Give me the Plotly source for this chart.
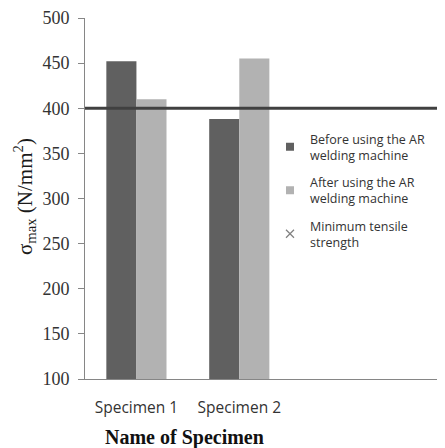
import plotly.graph_objects as go

specimens = ["Specimen 1", "Specimen 2"]
before_ar = [452, 388]
after_ar = [410, 455]
min_tensile = 400
y_ticks = [100, 150, 200, 250, 300, 350, 400, 450, 500]

dark = "#606060"
light = "#b2b2b2"

# page has an 8px body margin; figure sized so plot area lands where the reference has it
W, H = 437, 440
L, T, R, B = 77, 10, 0, 69
PW, PH = W - L - R, H - T - B

fig = go.Figure()
fig.add_trace(go.Bar(x=specimens, y=before_ar, marker=dict(color=dark, line=dict(width=0)),
                     name="Before using the AR<br>welding machine", showlegend=False))
fig.add_trace(go.Bar(x=specimens, y=after_ar, marker=dict(color=light, line=dict(width=0)),
                     name="After using the AR<br>welding machine", showlegend=False))

# legend entries
fig.add_trace(go.Scatter(x=[None], y=[None], mode="markers", name="Before using the AR<br>welding machine",
                         marker=dict(symbol="square", size=8, color=dark), legendgroup="a"))
fig.add_trace(go.Scatter(x=[None], y=[None], mode="markers", name="After using the AR<br>welding machine",
                         marker=dict(symbol="square", size=8, color=light), legendgroup="b"))
fig.add_trace(go.Scatter(x=[None], y=[None], mode="markers", name="Minimum tensile<br>strength",
                         marker=dict(symbol="x-thin-open", size=8, color="#7f7f7f",
                                     line=dict(width=1.2, color="#7f7f7f")),
                         legendgroup="c"))

fig.add_hline(y=min_tensile, line=dict(color="#404040", width=3), layer="above")

fig.update_layout(
    width=W, height=H,
    margin=dict(l=L, r=R, t=T, b=B, autoexpand=False),
    paper_bgcolor="white", plot_bgcolor="white",
    barmode="group", bargap=0.415, bargroupgap=0,
    font=dict(family="Open Sans", color="#333333"),
    legend=dict(x=(262 - L) / PW, y=1 - (116 - T) / PH, xanchor="left", yanchor="top",
                font=dict(family="Open Sans", size=12.5, color="#333333"),
                itemwidth=30, tracegroupgap=8, bgcolor="rgba(0,0,0,0)"),
    xaxis=dict(type="category", range=[-0.5, 3.0], showline=True, linecolor="#868686", linewidth=1,
               ticks="", showgrid=False, tickfont=dict(family="Open Sans", size=15.5, color="#333333"),
               ticklabelstandoff=14, fixedrange=True),
    yaxis=dict(range=[100, 500], tickvals=y_ticks, showline=True, linecolor="#868686", linewidth=1,
               ticks="outside", ticklen=6, tickcolor="#868686", showgrid=False, zeroline=False,
               tickfont=dict(family="Liberation Serif", size=18, color="#333333"),
               ticklabelstandoff=5),
)
fig.add_annotation(text="σ<sub>max</sub> (N/mm<sup>2</sup>)", textangle=-90,
                   xref="paper", yref="paper", x=(17 - L) / PW, y=1 - (189 - T) / PH,
                   xanchor="center", yanchor="middle", showarrow=False,
                   font=dict(family="Liberation Serif", size=21, color="#1a1a1a"))
fig.add_annotation(text="<b>Name of Specimen</b>", xref="paper", yref="paper",
                   x=(176 - L) / PW, y=-(429 - (T + PH)) / PH, xanchor="center", yanchor="middle",
                   showarrow=False, font=dict(family="Liberation Serif", size=20, color="#111111"))

fig.write_html("out.html")
